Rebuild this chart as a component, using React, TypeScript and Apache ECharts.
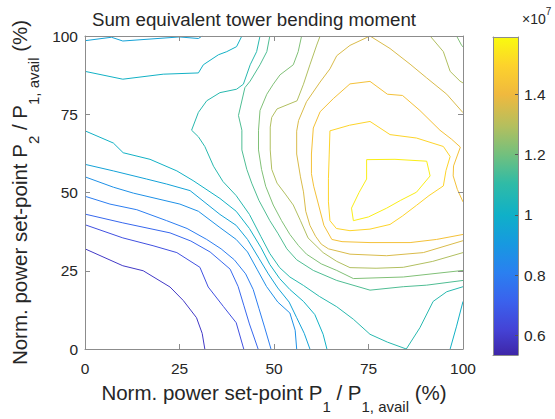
import React, { useEffect, useRef } from "react";
import * as echarts from "echarts";

type Pt = [number, number];

// ---- scale / levels (x 10^7) ----
const colorbarMin = 0.535;
const colorbarMax = 1.59;
const colorbarTicks = [0.6, 0.8, 1, 1.2, 1.4];
const levelValues = [0.59, 0.66, 0.73, 0.8, 0.87, 0.94, 1.01, 1.08, 1.15, 1.22, 1.29, 1.36, 1.43, 1.5, 1.56];

// ---- contour polylines, [P1 %, P2 %] ----
const line0: Pt[] = [[0, 32], [10, 26.6], [15.4, 25], [22.5, 19.8], [26, 15.5], [29.5, 10], [31, 5], [31.7, 0]];
const line1: Pt[] = [[0, 39.7], [10, 35.5], [18, 33], [24.3, 30.8], [30.4, 26.1], [32.6, 19.8], [36.6, 13.6], [40, 8.4], [42, 0]];
const line2: Pt[] = [[0, 43.1], [10, 40.3], [22.5, 37.1], [28, 34.5], [33.1, 31], [36, 28], [38.4, 25.5], [40.5, 20], [42, 14], [43.5, 8], [45.8, 0]];
const line3: Pt[] = [[0, 48.8], [6.6, 46.3], [13.7, 44.5], [21.6, 41], [27, 38.5], [32.2, 35], [36, 32], [39.5, 28.5], [42.5, 24], [44.5, 19], [46, 13], [47.5, 7], [49.2, 0]];
const line4: Pt[] = [[0, 55], [7.5, 51.7], [12.8, 49.8], [25.1, 46.3], [30, 44], [35.7, 38.8], [40, 35], [43, 31], [45.5, 25.5], [48, 20], [51, 15], [54.2, 11.5], [55.6, 6], [56, 0]];
const line5: Pt[] = [[0, 59], [7.5, 56.9], [16.3, 54.3], [21.6, 52.7], [27.8, 50.6], [35.7, 43], [40, 39.5], [43, 35], [46, 29], [48.5, 24], [51, 19.5], [54, 15], [56, 10], [58, 5], [59.5, 0]];
const line5b: Pt[] = [[0, 98.5], [7, 99.6], [10, 98.4], [25, 99.7], [30, 99.2], [31, 100]];
const line6: Pt[] = [[0, 69.7], [7.5, 65.8], [10.1, 62.7], [17.2, 60.6], [24.3, 56.9], [28.6, 53.8], [35.7, 48.1], [40, 44], [43.5, 38.5], [46.5, 32.5], [48.9, 27], [51.5, 22.5], [54.2, 19], [57.8, 15.2], [60.8, 11], [63, 4.7], [64, 0]];
const line6b: Pt[] = [[0, 88.7], [10, 86.2], [20.7, 87.8], [30, 88.2], [31.3, 90.8], [35.3, 94], [37.5, 95], [40.1, 96.6], [41.5, 100]];
const line6c: Pt[] = [[96.6, 0], [98.3, 7.3], [100, 15.2]];
const line7: Pt[] = [[46.3, 100], [45.4, 95], [43.7, 90.8], [41.9, 84.6], [40.1, 83], [35.7, 81.9], [32.2, 79.3], [30, 75.6], [28.2, 69.9], [30, 67.8], [31.7, 64.7], [34, 58.4], [36.5, 53.5], [40, 49], [43.5, 43], [46.5, 36], [48.9, 30.5], [51.5, 26], [54.2, 23], [57.8, 20.3], [62, 16.8], [66.6, 13.5], [71, 9.5], [75.4, 4.7], [80, 2.2], [85, 0], [88.6, 6.8], [92.1, 15.2], [95.7, 18.3], [100, 19.9]];
const line8: Pt[] = [[48.9, 100], [48.1, 95], [46.3, 90.8], [43.7, 85.6], [42.3, 83.5], [40.6, 74.6], [41.5, 69.9], [41.5, 63.6], [42.8, 57.4], [44.1, 53], [46, 47.5], [48.9, 41], [51, 37], [53.4, 32], [56, 28.5], [60.4, 25.1], [66.6, 21.9], [75.4, 18.8], [84.2, 19.9], [90.4, 20.4], [100, 21.9]];
const line9: Pt[] = [[57.3, 100], [56.4, 95], [55.1, 90.8], [51.6, 87.6], [49.8, 84.6], [48.1, 81.4], [46.3, 76.2], [45.9, 69.9], [45.9, 63.6], [46.7, 57.4], [47.8, 52], [49.8, 46], [52, 41], [54.2, 36.6], [56.5, 33], [58.6, 30.3], [62.5, 27.2], [66.6, 25.1], [71, 22.5], [84.2, 23], [100, 25.1]];
const line9b: Pt[] = [[98.3, 100], [99.6, 97.1], [100, 96.5]];
const line10: Pt[] = [[62.2, 100], [61.3, 97.1], [59.5, 90.8], [57.8, 84.6], [56.1, 79.3], [50.8, 76.7], [49.4, 74], [49, 70.9], [49, 63.6], [49.4, 57.4], [50.8, 53], [53, 49.5], [55.1, 46], [57, 41], [59, 35.5], [63, 30.8], [66.6, 28], [70.1, 26], [77, 25.8], [84.2, 26.1], [92, 28], [100, 30.8]];
const line10b: Pt[] = [[91.3, 100], [94.8, 95], [96.6, 88.7], [99.2, 85.6], [100, 85]];
const line11: Pt[] = [[100, 75.5], [95.7, 81.4], [90.4, 86.6], [86, 91], [80.7, 96], [75.4, 100], [70.1, 97], [66.6, 93.7], [64.8, 89.5], [62.2, 85.3], [58.6, 79], [56.5, 73], [56, 69.6], [56, 62.3], [57, 55], [57.8, 50.2], [58.4, 44], [59.5, 39.5], [61, 36], [62.5, 33.5], [64.4, 32], [70.1, 30.3], [79.8, 29.8], [89.5, 30.8], [100, 34.6]];
const line12: Pt[] = [[100, 36.6], [93, 35], [86, 34], [75.4, 34], [68, 34.3], [65.3, 35], [63.2, 39.5], [61.8, 46], [60.5, 52], [59.9, 56], [59.9, 62.3], [60.4, 70.6], [62.2, 75.8], [65.7, 80], [70.1, 84.7], [75.4, 85.5], [80, 81.4], [84, 81], [88.6, 76.2], [93.9, 69.9], [97, 67], [99.3, 64.5], [97.5, 58.5], [97.4, 55.3], [98.5, 51], [100, 47]];
const line13: Pt[] = [[64.8, 69.7], [70, 71.5], [75.4, 72.7], [80.7, 68.5], [87.7, 67.4], [94.8, 64.7], [96.6, 61.5], [95.5, 57], [94.8, 52.1], [91, 49], [87.7, 45.9], [84, 42.5], [80.7, 39.8], [75.4, 38.3], [70.1, 37.8], [66.5, 38.5], [64.8, 41], [64.4, 47], [64.4, 54.4], [64.6, 62], [64.8, 69.7]];
const line14: Pt[] = [[74.5, 60.5], [82, 60.6], [90.4, 60], [91.3, 55.3], [87.7, 50.1], [83.5, 47.5], [79.8, 45], [75, 42.2], [71, 41], [70.5, 45], [72.5, 50], [74.5, 54.3], [74.5, 60.5]];

const contourLines: [number, Pt[]][] = [
  [0, line0], [1, line1], [2, line2], [3, line3], [4, line4],
  [5, line5], [5, line5b], [6, line6], [6, line6b], [6, line6c],
  [7, line7], [8, line8], [9, line9], [9, line9b], [10, line10], [10, line10b],
  [11, line11], [12, line12], [13, line13], [14, line14],
];

// ---- styling: parula-like colormap (position, colour) ----
const CMAP: [number, string][] = [
  [0, "#3e26a8"], [0.08, "#4443d6"], [0.17, "#3a62ed"], [0.26, "#2a80f0"],
  [0.35, "#1799e0"], [0.44, "#0fb0c8"], [0.54, "#30bba6"], [0.63, "#72c07e"],
  [0.72, "#b4bf5e"], [0.82, "#f0b93e"], [0.91, "#fdd22c"], [1, "#f9fb0e"],
];
const AX = "#8c8c8c";
const TXT = "#262626";
const FONT = "'Liberation Sans', Arial, Helvetica, sans-serif";

function hexToRgb(h: string): number[] {
  return [parseInt(h.slice(1, 3), 16), parseInt(h.slice(3, 5), 16), parseInt(h.slice(5, 7), 16)];
}
function cmap(t: number): string {
  const tt = Math.max(0, Math.min(1, t));
  let i = 0;
  while (i < CMAP.length - 2 && tt > CMAP[i + 1][0]) i++;
  const [p0, c0] = CMAP[i];
  const [p1, c1] = CMAP[i + 1];
  const u = (tt - p0) / (p1 - p0);
  const a = hexToRgb(c0);
  const b = hexToRgb(c1);
  const c = a.map((v, k) => Math.round(v + (b[k] - v) * u));
  return `rgb(${c[0]},${c[1]},${c[2]})`;
}

const nameRich = {
  t: { fontSize: 20.5, color: TXT, fontFamily: FONT, lineHeight: 24, verticalAlign: "top" },
  s: { fontSize: 15, color: TXT, fontFamily: FONT, lineHeight: 15, padding: [17, 0, 0, 0], verticalAlign: "top" },
};

export default function App() {
  const ref = useRef<HTMLDivElement>(null);

  useEffect(() => {
    if (!ref.current) return;
    const chart = echarts.init(ref.current, undefined, { renderer: "svg" });
    const gradient = {
      type: "linear", x: 0, y: 0, x2: 0, y2: 1,
      colorStops: CMAP.map(([p, c]) => ({ offset: 1 - p, color: c })).reverse(),
    };
    const boxAxis = (extra: any) => ({
      z: 5,
      axisLine: { show: true, onZero: false, lineStyle: { color: AX, width: 1 } },
      axisTick: { show: true, inside: true, length: 5, lineStyle: { color: AX } },
      splitLine: { show: false },
      ...extra,
    });
    const option: any = {
      animation: false,
      backgroundColor: "#ffffff",
      textStyle: { fontFamily: FONT },
      grid: [
        { left: 85, top: 36, width: 378, height: 319 },
        { left: 493, top: 37, width: 25, height: 318 },
      ],
      xAxis: [
        boxAxis({
          type: "value", gridIndex: 0, min: 0, max: 100, interval: 25, position: "bottom",
          axisLabel: { color: TXT, fontSize: 15.5, fontFamily: FONT, margin: 11 },
          name: "{t|Norm. power set-point P}{s|1}{t| / P}{s|1, avail}{t| (%)}",
          nameLocation: "middle", nameGap: 33,
          nameTextStyle: { color: TXT, fontFamily: FONT, fontSize: 20.5, rich: nameRich },
        }),
        boxAxis({
          type: "value", gridIndex: 0, min: 0, max: 100, interval: 25, position: "top",
          axisLabel: { show: false },
        }),
        boxAxis({
          type: "category", gridIndex: 1, data: ["cb"], position: "bottom",
          axisTick: { show: false }, axisLabel: { show: false },
        }),
        boxAxis({
          type: "category", gridIndex: 1, data: ["cb"], position: "top",
          axisTick: { show: false }, axisLabel: { show: false },
        }),
      ],
      yAxis: [
        boxAxis({
          type: "value", gridIndex: 0, min: 0, max: 100, interval: 25, position: "left",
          axisLabel: { color: TXT, fontSize: 15.5, fontFamily: FONT, margin: 7 },
          name: "{t|Norm. power set-point P}{s|2}{t| / P}{s|1, avail}{t| (%)}",
          nameLocation: "middle", nameGap: 41,
          nameTextStyle: { color: TXT, fontFamily: FONT, fontSize: 20.5, rich: nameRich },
        }),
        boxAxis({
          type: "value", gridIndex: 0, min: 0, max: 100, interval: 25, position: "right",
          axisLabel: { show: false },
        }),
        boxAxis({
          type: "value", gridIndex: 1, min: colorbarMin, max: colorbarMax, position: "right",
          axisTick: { show: true, inside: true, length: 3, customValues: colorbarTicks, lineStyle: { color: "#555" } },
          axisLabel: { color: TXT, fontSize: 15.5, fontFamily: FONT, margin: 6, customValues: colorbarTicks },
        }),
        boxAxis({
          type: "value", gridIndex: 1, min: colorbarMin, max: colorbarMax, position: "left",
          axisTick: { show: false }, axisLabel: { show: false },
        }),
      ],
      graphic: [
        {
          type: "text", x: 254, y: 19, z: 10,
          style: {
            text: "Sum equivalent tower bending moment",
            fontSize: 18.7, fontFamily: FONT, fill: TXT,
            align: "center", verticalAlign: "middle", textAlign: "center", textVerticalAlign: "middle",
          },
        },
        {
          type: "text", x: 522, y: 6, z: 10,
          style: {
            text: "{a|×10}{b|7}",
            fill: TXT,
            rich: {
              a: { fontSize: 14, fontFamily: FONT, fill: TXT, color: TXT, lineHeight: 20, verticalAlign: "bottom" },
              b: { fontSize: 10, fontFamily: FONT, fill: TXT, color: TXT, lineHeight: 12, verticalAlign: "top" },
            },
          },
        },
      ],
      series: [
        {
          type: "bar", xAxisIndex: 2, yAxisIndex: 2, data: [colorbarMax],
          barWidth: "100%", itemStyle: { color: gradient }, silent: true, clip: true,
        },
        ...contourLines.map(([k, pts]) => ({
          type: "line", xAxisIndex: 0, yAxisIndex: 0, data: pts,
          showSymbol: false, symbol: "none", silent: true, clip: true, z: 3,
          lineStyle: { color: cmap((levelValues[k] - colorbarMin) / (colorbarMax - colorbarMin)), width: 1 },
        })),
      ],
    };
    chart.setOption(option);
    return () => chart.dispose();
  }, []);

  return (
    <div
      ref={ref}
      style={{ position: "fixed", left: 0, top: 0, width: 555, height: 419, background: "#fff" }}
    />
  );
}
